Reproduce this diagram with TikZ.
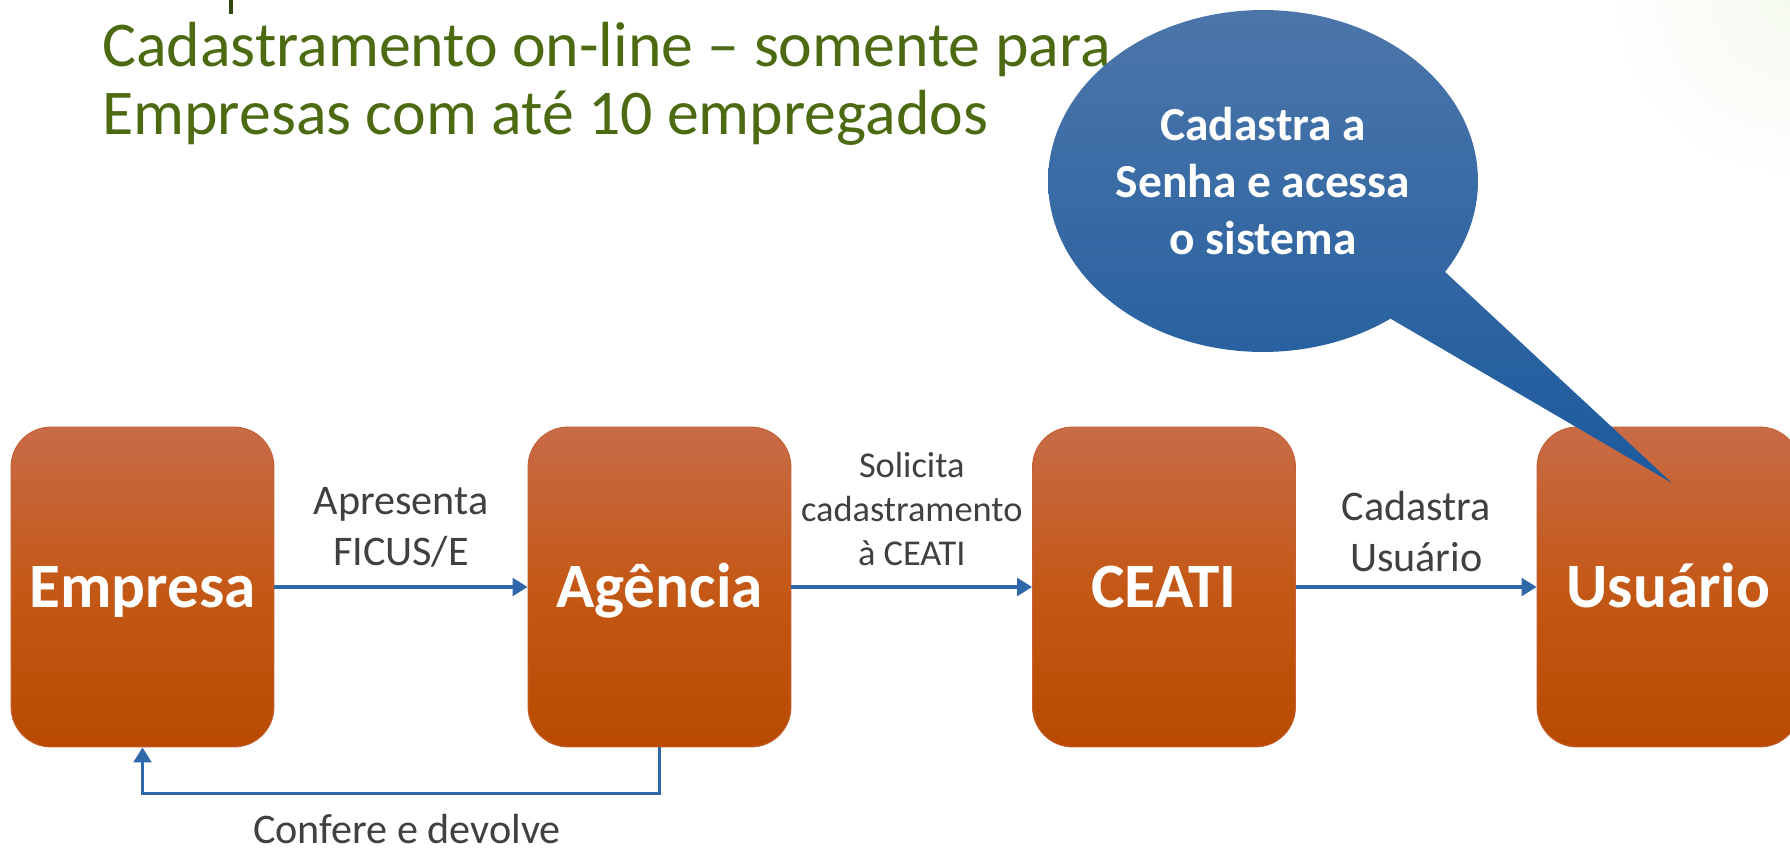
\documentclass[tikz,border=0pt]{standalone}
\usepackage{fontspec}
\setmainfont{Carlito}
\usetikzlibrary{arrows.meta,shapes.callouts}

\definecolor{titlegreen}{RGB}{76,106,18}
\definecolor{titledark}{RGB}{48,68,12}
\definecolor{fadegreen}{RGB}{245,250,240}
\definecolor{boxtop}{RGB}{200,107,72}
\definecolor{boxmid}{RGB}{196,88,22}
\definecolor{boxbot}{RGB}{185,74,0}
\definecolor{boxline}{RGB}{196,96,50}
\definecolor{flowblue}{RGB}{46,104,170}
\definecolor{bubtop}{RGB}{76,118,170}
\definecolor{bubbot}{RGB}{28,90,157}
\definecolor{labelgray}{RGB}{64,64,64}

\begin{document}
\begin{tikzpicture}[x=0.02cm, y=-0.02cm,
        title/.style={text=titlegreen, inner sep=0pt, anchor=base west,
            font=\fontsize{36.3}{37}\selectfont},
        box/.style={draw=boxline, line width=0.5pt, rounded corners=0.8cm,
            top color=boxtop, bottom color=boxbot, middle color=boxmid,
            minimum width=5.26cm, minimum height=6.4cm, inner sep=0pt,
            text height=22.8pt, text depth=0pt, text=white,
            font=\bfseries\fontsize{36}{40}\selectfont},
        flow/.style={draw=flowblue, line width=1.9pt,
            -{Triangle[length=8.5pt,width=10pt]}},
        lbl/.style={text=labelgray, align=center, inner sep=0pt,
            font=\fontsize{24}{29}\selectfont},
        bubble/.style={ellipse callout, callout pointer arc=21.5,
            minimum width=8.6cm, minimum height=6.84cm, inner sep=0pt,
            top color=bubtop, bottom color=bubbot, text=white, align=center,
            font=\bfseries\fontsize{27}{32.6}\selectfont}]
        % 画布与页面同大(1790x851像素,1像素=0.02cm),超出部分裁掉
        \useasboundingbox (0,0) rectangle (1790,851);
        \clip (0,0) rectangle (1790,851);
        \fill[white] (0,0) rectangle (1790,851);
        \shade[inner color=fadegreen, outer color=white] (1790,0) circle (190);

        % 标题(上一行只露出一小截)
        \fill[titledark] (229,0) rectangle (233,14);
        \node[title] (title1) at (102,67) {Cadastramento on-line – somente para};
        \node[title] (title2) at (102,135) {Empresas com até 10 empregados};

        % 四个方框
        \node[box] (empresa) at (142.5,587)  {Empresa};
        \node[box] (agencia) at (659.5,587)  {Agência};
        \node[box] (ceati)   at (1164,587)   {CEATI};
        \node[box] (usuario) at (1668.5,587) {Usuário};

        % 连线及说明文字
        \draw[flow] (empresa) -- node[lbl, above=0.36cm]
            {Apresenta\\FICUS/E} (agencia);
        \draw[flow] (agencia) -- node[lbl, above=0.4cm,
            font=\fontsize{20.7}{25}\selectfont]
            {Solicita\\cadastramento\\à CEATI} (ceati);
        \draw[flow] (ceati) -- node[lbl, above=0.28cm]
            {Cadastra\\Usuário} (usuario);
        \draw[flow] (agencia.south) -- ++(0,46) -| node[lbl, pos=0.25,
            anchor=base, xshift=0.12cm, yshift=-1.0cm]
            {Confere e devolve} (empresa.south);

        % 气泡框
        \node[bubble, callout absolute pointer={(1672,483)}] (senha)
            at (1263,181) {Cadastra a\\Senha e acessa\\o sistema};
    \end{tikzpicture}
\end{document}
